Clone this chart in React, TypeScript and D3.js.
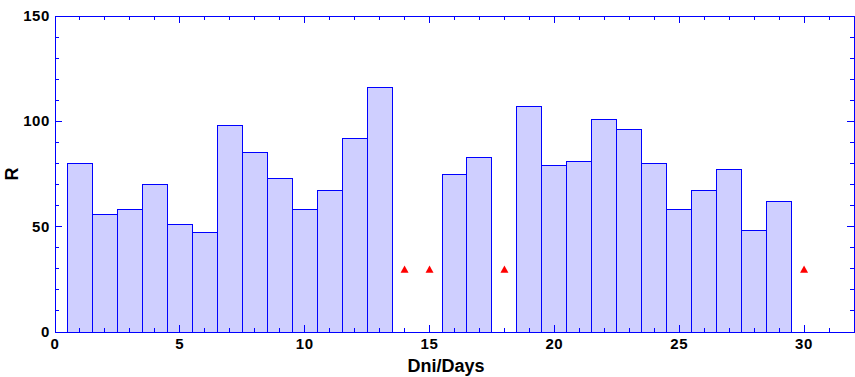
import React from "react";
import * as d3 from "d3";

const days = [1, 2, 3, 4, 5, 6, 7, 8, 9, 10, 11, 12, 13, 16, 17, 19, 20, 21, 22, 23, 24, 25, 26, 27, 28, 29];
const rValues = [80, 56, 58, 70, 51, 47, 98, 85, 73, 58, 67, 92, 116, 75, 83, 107, 79, 81, 101, 96, 80, 58, 67, 77, 48, 62];
const missingDays = [14, 15, 18, 30];
const missingValue = [30, 30, 30, 30];
const xTicks = [0, 5, 10, 15, 20, 25, 30];
const yTicks = [0, 50, 100, 150];

const W = 855;
const H = 377;
const M = { left: 55, right: 1, top: 16, bottom: 45 };

export default function App() {
  const x = d3.scaleLinear().domain([0, 32]).range([M.left, W - M.right]);
  const y = d3.scaleLinear().domain([0, 150]).range([H - M.bottom, M.top]);
  const blue = "#0000ff";
  const fill = "#cfcfff";
  const x0 = x(0), x1 = x(32), y0 = y(0), y1 = y(150);
  const xMinor = d3.range(0, 33, 1);
  const yMinor = d3.range(0, 151, 10);
  const triPath = d3.line()([[0, -3.2], [4, 4], [-4, 4]]) + "Z";
  const font = "'Liberation Sans', Arial, sans-serif";

  return (
    <svg width={W} height={H} style={{ position: "absolute", left: 0, top: 0, background: "#fff" }}>
      <g shapeRendering="crispEdges">
        {days.map((d, i) => (
          <rect
            key={d}
            x={x(d - 0.5)}
            y={y(rValues[i])}
            width={x(d + 0.5) - x(d - 0.5)}
            height={y(0) - y(rValues[i])}
            fill={fill}
            stroke={blue}
            strokeWidth={1}
          />
        ))}
        <rect x={x0} y={y1} width={x1 - x0} height={y0 - y1} fill="none" stroke={blue} strokeWidth={1} />
        {xMinor.map((t) => {
          const len = t % 5 === 0 ? 7 : 4;
          return (
            <g key={"xt" + t}>
              <line x1={x(t)} x2={x(t)} y1={y0} y2={y0 - len} stroke={blue} />
              <line x1={x(t)} x2={x(t)} y1={y1} y2={y1 + len} stroke={blue} />
            </g>
          );
        })}
        {yMinor.map((t) => {
          const len = t % 50 === 0 ? 7 : 4;
          return (
            <g key={"yt" + t}>
              <line x1={x0} x2={x0 + len} y1={y(t)} y2={y(t)} stroke={blue} />
              <line x1={x1} x2={x1 - len} y1={y(t)} y2={y(t)} stroke={blue} />
            </g>
          );
        })}
      </g>
      {missingDays.map((d, i) => (
        <path key={"m" + d} d={triPath} transform={`translate(${x(d)},${y(missingValue[i])})`} fill="#ff0000" />
      ))}
      {xTicks.map((t) => (
        <text key={"xl" + t} x={x(t)} y={y0 + 17} textAnchor="middle" fontFamily={font} fontWeight="bold" fontSize={15} letterSpacing={0.6} fill="#000">
          {t}
        </text>
      ))}
      {yTicks.map((t) => (
        <text key={"yl" + t} x={x0 - 5} y={y(t) + 5} textAnchor="end" fontFamily={font} fontWeight="bold" fontSize={15} letterSpacing={0.6} fill="#000">
          {t}
        </text>
      ))}
      <text x={446} y={H - 5} textAnchor="middle" fontFamily={font} fontWeight="bold" fontSize={18} fill="#000">
        Dni/Days
      </text>
      <text transform={`translate(18,${(y0 + y1) / 2}) rotate(-90)`} textAnchor="middle" fontFamily={font} fontWeight="bold" fontSize={18} fill="#000">
        R
      </text>
    </svg>
  );
}
